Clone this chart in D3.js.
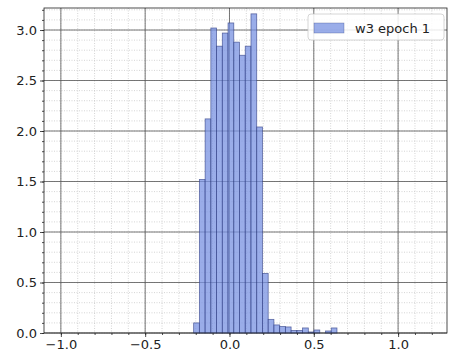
<!DOCTYPE html>
<html>
<head>
<meta charset="utf-8">
<style>
body{margin:0;background:#fff}
text{font-family:"DejaVu Sans",sans-serif;fill:#222}
</style>
</head>
<body>
<svg width="449" height="356"></svg>
<script src="https://d3js.org/d3.v7.min.js"></script>
<script>
// histogram w3 epoch 1 (density)
var binStart = -0.2125
var binWidth = 0.034
var density = [0.10,1.52,2.12,3.02,2.84,2.97,3.07,2.88,2.75,2.84,3.16,2.04,0.59,
  0.135,0.08,0.065,0.06,0.025,0.025,0.05,0.01,0.03,0.0,0.02,0.05]
var xTicks = [-1.0,-0.5,0.0,0.5,1.0]
var yTicks = [0.0,0.5,1.0,1.5,2.0,2.5,3.0]
var label = "w3 epoch 1"

var pl=44, pr=447, pt=8, pb=333
var svg=d3.select('svg')
var x=d3.scaleLinear().domain([-1.1,1.29]).range([pl,pr])
var y=d3.scaleLinear().domain([0,3.218]).range([pb,pt])

var fmt=function(d){return d3.format('.1f')(d).replace('-','\u2212')}

var minorX=d3.range(-11,13).map(function(i){return i/10}).filter(function(v){return v>-1.1&&v<1.29})
var minorY=d3.range(0,33).map(function(i){return i/10})

// minor grid
svg.append('g').selectAll('line').data(minorX).enter().append('line')
  .attr('x1',function(d){return x(d)}).attr('x2',function(d){return x(d)})
  .attr('y1',pt).attr('y2',pb)
  .attr('stroke','#b8b8b8').attr('stroke-width',0.6).attr('stroke-dasharray','1,1.5')
svg.append('g').selectAll('line').data(minorY).enter().append('line')
  .attr('y1',function(d){return y(d)}).attr('y2',function(d){return y(d)})
  .attr('x1',pl).attr('x2',pr)
  .attr('stroke','#b8b8b8').attr('stroke-width',0.6).attr('stroke-dasharray','1,1.5')
// major grid
svg.append('g').selectAll('line').data(xTicks).enter().append('line')
  .attr('x1',function(d){return x(d)}).attr('x2',function(d){return x(d)})
  .attr('y1',pt).attr('y2',pb)
  .attr('stroke','#555').attr('stroke-width',0.8)
svg.append('g').selectAll('line').data(yTicks).enter().append('line')
  .attr('y1',function(d){return y(d)}).attr('y2',function(d){return y(d)})
  .attr('x1',pl).attr('x2',pr)
  .attr('stroke','#555').attr('stroke-width',0.8)

// bars
svg.append('g').selectAll('rect').data(density).enter().append('rect')
  .attr('x',function(d,i){return x(binStart+i*binWidth)})
  .attr('width',function(d,i){return x(binStart+(i+1)*binWidth)-x(binStart+i*binWidth)})
  .attr('y',function(d){return y(d)})
  .attr('height',function(d){return pb-y(d)})
  .attr('fill','rgb(120,145,225)').attr('fill-opacity',0.75)
  .attr('stroke','rgb(45,60,130)').attr('stroke-opacity',0.7).attr('stroke-width',0.8)

// axes
var xAxis=d3.axisBottom(x).tickValues(xTicks).tickFormat(fmt).tickSize(4).tickPadding(3)
var xMinor=d3.axisBottom(x).tickValues(minorX).tickFormat('').tickSize(2)
var yAxis=d3.axisLeft(y).tickValues(yTicks).tickFormat(fmt).tickSize(4).tickPadding(3)
var yMinor=d3.axisLeft(y).tickValues(minorY).tickFormat('').tickSize(2)
svg.append('g').attr('transform','translate(0,'+pb+')').call(xMinor)
svg.append('g').attr('transform','translate(0,'+pb+')').call(xAxis)
svg.append('g').attr('transform','translate('+pl+',0)').call(yMinor)
svg.append('g').attr('transform','translate('+pl+',0)').call(yAxis)
svg.selectAll('.domain').remove()
svg.selectAll('.tick line').attr('stroke','#222').attr('stroke-width',0.8)
svg.selectAll('.tick text').style('font-size','13px').style('fill','#222')

svg.append('rect').attr('x',pl).attr('y',pt).attr('width',pr-pl).attr('height',pb-pt)
  .attr('fill','none').attr('stroke','#222').attr('stroke-width',0.8)

// legend
var lg=svg.append('g')
lg.append('rect').attr('x',308).attr('y',14).attr('width',136).attr('height',26).attr('rx',3)
  .attr('fill','#fff').attr('fill-opacity',0.85).attr('stroke','#ccc').attr('stroke-width',0.8)
lg.append('rect').attr('x',314).attr('y',23).attr('width',30).attr('height',10)
  .attr('fill','rgb(120,145,225)').attr('fill-opacity',0.75)
  .attr('stroke','rgb(45,60,130)').attr('stroke-opacity',0.5).attr('stroke-width',0.6)
lg.append('text').attr('x',355).attr('y',32.5).style('font-size','13px').text(label)
</script>
</body>
</html>
